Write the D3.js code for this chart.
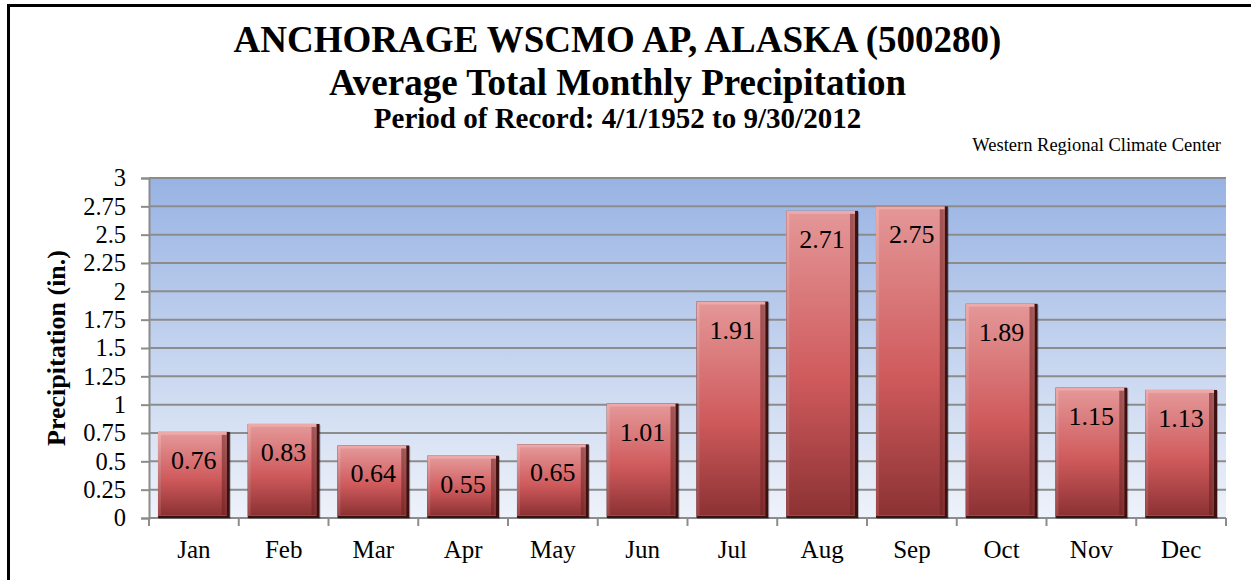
<!DOCTYPE html>
<html>
<head>
<meta charset="utf-8">
<script src="https://cdn.jsdelivr.net/npm/d3@7"></script>
<style>
  body { margin: 0; background: #fff; }
  svg { display: block; }
  svg text { font-family: "Liberation Serif", "Times New Roman", serif; }
</style>
</head>
<body>
<div id="wrapper"></div>
<script>
// Data
const months = ["Jan", "Feb", "Mar", "Apr", "May", "Jun", "Jul", "Aug", "Sep", "Oct", "Nov", "Dec"]
const precip = [0.76, 0.83, 0.64, 0.55, 0.65, 1.01, 1.91, 2.71, 2.75, 1.89, 1.15, 1.13]
const yTicks = [0, 0.25, 0.5, 0.75, 1, 1.25, 1.5, 1.75, 2, 2.25, 2.5, 2.75, 3]
const titleLines = ["ANCHORAGE WSCMO AP, ALASKA (500280)", "Average Total Monthly Precipitation"]
const subTitle = "Period of Record: 4/1/1952 to 9/30/2012"
const credit = "Western Regional Climate Center"
const yLabel = "Precipitation (in.)"

function drawBars() {
    const dataset = months.map((m, i) => ({month: m, value: precip[i]}))
    const monthAccessor = d => d.month
    const valueAccessor = d => d.value

    let dimensions = {
        width: 1251,
        height: 580,
        margin: {top: 178, right: 25, bottom: 62, left: 149},
    }
    dimensions.boundedWidth = dimensions.width - dimensions.margin.left - dimensions.margin.right
    dimensions.boundedHeight = dimensions.height - dimensions.margin.top - dimensions.margin.bottom

    const wrapper = d3.select("#wrapper")
        .append("svg")
        .attr("width", dimensions.width)
        .attr("height", dimensions.height)

    const defs = wrapper.append("defs")

    const bgGrad = defs.append("linearGradient")
        .attr("id", "bgGrad").attr("x1", 0).attr("y1", 0).attr("x2", 0).attr("y2", 1)
    bgGrad.append("stop").attr("offset", "0%").attr("stop-color", "#98b3e3")
    bgGrad.append("stop").attr("offset", "100%").attr("stop-color", "#eef2fa")

    const barGrad = defs.append("linearGradient")
        .attr("id", "barGrad").attr("x1", 0).attr("y1", 0).attr("x2", 0).attr("y2", 1)
    barGrad.append("stop").attr("offset", "0%").attr("stop-color", "#e49697")
    barGrad.append("stop").attr("offset", "55%").attr("stop-color", "#cf5a5c")
    barGrad.append("stop").attr("offset", "100%").attr("stop-color", "#8c3234")

    const edgeGrad = defs.append("linearGradient")
        .attr("id", "edgeGrad").attr("x1", 0).attr("y1", 0).attr("x2", 0).attr("y2", 1)
    edgeGrad.append("stop").attr("offset", "0%").attr("stop-color", "#eeaaaa")
    edgeGrad.append("stop").attr("offset", "100%").attr("stop-color", "#a04446")

    // outer frame
    wrapper.append("rect")
        .attr("x", 8.5).attr("y", 5.5)
        .attr("width", 1260).attr("height", 600)
        .attr("fill", "none")
        .attr("stroke", "#000")
        .attr("stroke-width", 3)

    const bounds = wrapper.append("g")
        .attr("transform", `translate(${dimensions.margin.left}, ${dimensions.margin.top})`)

    // Scales
    const xScale = d3.scaleBand()
        .domain(dataset.map(monthAccessor))
        .range([0, dimensions.boundedWidth])
        .paddingInner(0.2)
        .paddingOuter(0.1)

    const yScale = d3.scaleLinear()
        .domain([0, 3])
        .range([dimensions.boundedHeight, 0])

    // plot background
    bounds.append("rect")
        .attr("width", dimensions.boundedWidth)
        .attr("height", dimensions.boundedHeight)
        .attr("fill", "url(#bgGrad)")

    // gridlines
    bounds.append("g")
        .selectAll("line")
        .data(yTicks.slice(1))
        .join("line")
            .attr("x1", 0)
            .attr("x2", dimensions.boundedWidth)
            .attr("y1", d => yScale(d))
            .attr("y2", d => yScale(d))
            .attr("stroke", "#8c8c8c")
            .attr("stroke-width", 2)

    // y axis
    const yAxisGenerator = d3.axisLeft()
        .scale(yScale)
        .tickValues(yTicks)
        .tickFormat(d => d)
        .tickSize(8)
        .tickPadding(15)
    const yAxis = bounds.append("g")
        .call(yAxisGenerator)
        .attr("font-family", null)
    yAxis.select(".domain").attr("stroke", "#8c8c8c").attr("stroke-width", 2)
    yAxis.selectAll(".tick line").attr("stroke", "#8c8c8c").attr("stroke-width", 2)
    yAxis.selectAll(".tick text")
        .attr("fill", "#000")
        .style("font-size", "24.5px")

    // x axis: ticks at category boundaries
    const xAxis = bounds.append("g")
        .attr("transform", `translate(0, ${dimensions.boundedHeight})`)
    xAxis.append("line")
        .attr("x1", 0).attr("x2", dimensions.boundedWidth)
        .attr("stroke", "#8c8c8c").attr("stroke-width", 2)
    const boundaries = d3.range(months.length + 1)
        .map(i => i === months.length ? dimensions.boundedWidth : xScale(months[i]) - xScale.step() * xScale.paddingOuter())
    xAxis.selectAll(".xtick")
        .data(boundaries)
        .join("line")
            .attr("class", "xtick")
            .attr("x1", d => d).attr("x2", d => d)
            .attr("y1", 0).attr("y2", 8)
            .attr("stroke", "#8c8c8c").attr("stroke-width", 2)
    xAxis.selectAll(".xlabel")
        .data(months)
        .join("text")
            .attr("class", "xlabel")
            .attr("x", d => xScale(d) + xScale.bandwidth() / 2)
            .attr("y", 40)
            .attr("text-anchor", "middle")
            .style("font-size", "25px")
            .text(d => d)

    // Bars with a bevel look
    const barGroups = bounds.append("g")
        .selectAll("g")
        .data(dataset)
        .join("g")
            .attr("transform", d => `translate(${xScale(monthAccessor(d))}, ${yScale(valueAccessor(d))})`)

    const bw = xScale.bandwidth()
    const bh = d => yScale(0) - yScale(valueAccessor(d))

    barGroups.append("rect")
        .attr("x", 1).attr("y", 1)
        .attr("width", bw).attr("height", d => bh(d))
        .attr("fill", "#000").attr("opacity", 0.25)
    barGroups.append("rect")
        .attr("width", bw).attr("height", d => bh(d))
        .attr("fill", "#3e1111")
    barGroups.append("rect")
        .attr("width", bw - 3).attr("height", d => bh(d) - 2)
        .attr("fill", "url(#edgeGrad)")
    barGroups.append("rect")
        .attr("x", 3).attr("y", 3)
        .attr("width", bw - 8).attr("height", d => bh(d) - 6)
        .attr("fill", "url(#barGrad)")
    barGroups.append("rect")
        .attr("x", bw - 8).attr("y", 3)
        .attr("width", 5).attr("height", d => bh(d) - 6)
        .attr("fill", "#6d2020").attr("opacity", 0.55)

    barGroups.append("text")
        .attr("x", bw / 2)
        .attr("y", 37)
        .attr("text-anchor", "middle")
        .style("font-size", "26px")
        .text(d => valueAccessor(d))

    // Titles
    wrapper.append("g")
        .selectAll("text")
        .data(titleLines)
        .join("text")
            .attr("x", 617.5)
            .attr("y", (d, i) => 52 + i * 43)
            .attr("text-anchor", "middle")
            .attr("font-weight", "bold")
            .style("font-size", "37px")
            .text(d => d)

    wrapper.append("text")
        .attr("x", 617.5)
        .attr("y", 128)
        .attr("text-anchor", "middle")
        .attr("font-weight", "bold")
        .style("font-size", "29px")
        .text(subTitle)

    wrapper.append("text")
        .attr("x", 1221)
        .attr("y", 151)
        .attr("text-anchor", "end")
        .style("font-size", "18.5px")
        .text(credit)

    // y label
    wrapper.append("text")
        .attr("transform", "translate(65, 348) rotate(-90)")
        .attr("text-anchor", "middle")
        .attr("font-weight", "bold")
        .style("font-size", "26px")
        .text(yLabel)
}
drawBars()
</script>
</body>
</html>
